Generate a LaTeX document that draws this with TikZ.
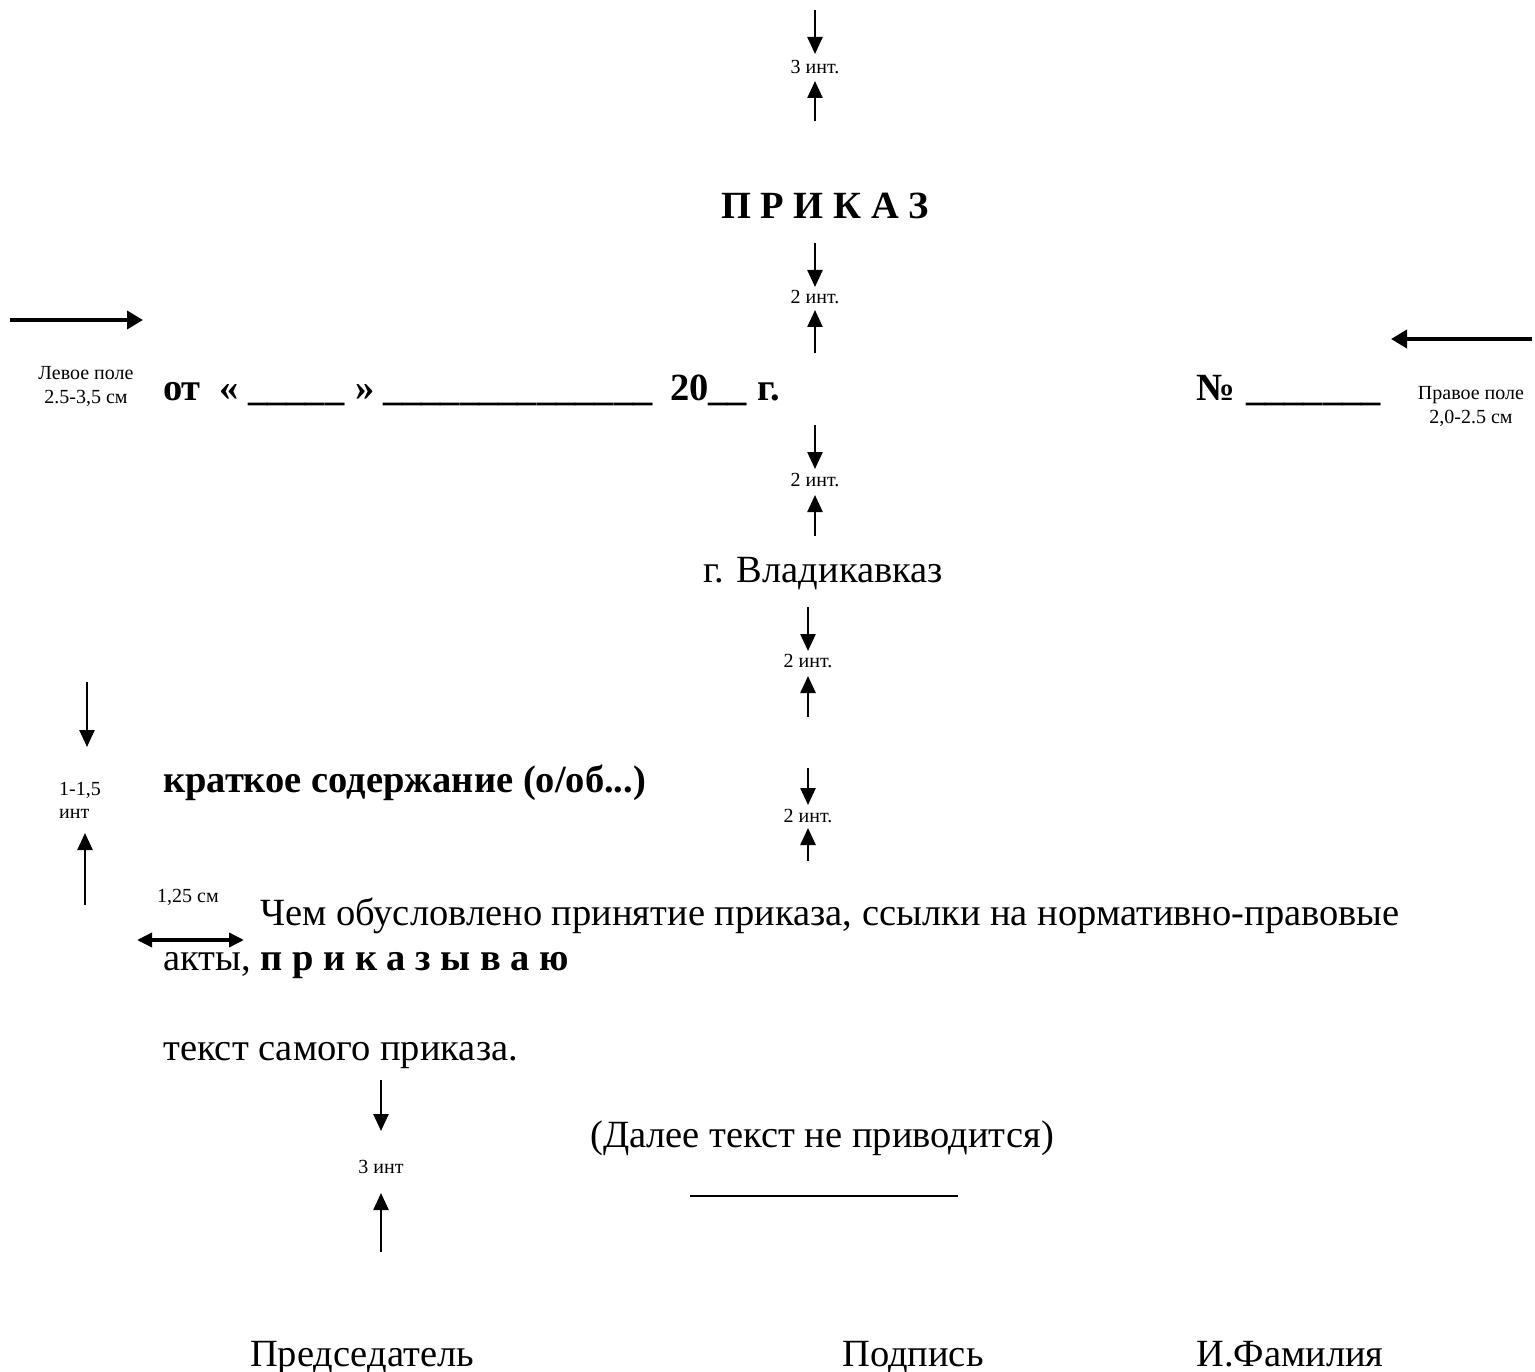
\documentclass[tikz,border=0pt]{standalone}
\usepackage{fontspec}
\setmainfont{Liberation Serif}
\usetikzlibrary{arrows.meta}
\tikzset{
  varr/.style={line width=2.5pt,-{Triangle[length=17pt,width=15pt]}},
  harr/.style={line width=3.6pt,-{Triangle[length=16pt,width=18pt]}},
  darr/.style={line width=3.5pt,{Triangle[length=15pt,width=14pt]}-{Triangle[length=15pt,width=14pt]}},
  lbl/.style={inner sep=0pt,font=\fontsize{20}{22}\selectfont},
  txt/.style={inner sep=0pt,anchor=base west,font=\fontsize{38.5}{44}\selectfont},
  btxt/.style={inner sep=0pt,anchor=base west,font=\fontsize{38.5}{44}\selectfont\bfseries},
}
\newcommand{\us}[1]{\foreach \i in {1,...,#1}{\_}}
\begin{document}
\begin{tikzpicture}[x=1pt,y=-1pt]
\useasboundingbox[fill=white] (0,0) rectangle (1535,1372);

% top: 3 int
\coordinate (a1s) at (815,10); \coordinate (a1e) at (815,54);
\node[lbl] (l1) at (815,67) {3 инт.};
\coordinate (b1s) at (815,121); \coordinate (b1e) at (815,81);
\draw[varr] (a1s) -- (a1e);
\draw[varr] (b1s) -- (b1e);

% title
\node[inner sep=0pt,anchor=base,font=\fontsize{38.5}{44}\selectfont\bfseries] (title) at (825,219) {П Р И К А З};

% 2 int
\coordinate (a2s) at (815,243); \coordinate (a2e) at (815,287);
\node[lbl] (l2) at (815,297) {2 инт.};
\coordinate (b2s) at (815,353); \coordinate (b2e) at (815,310);
\draw[varr] (a2s) -- (a2e);
\draw[varr] (b2s) -- (b2e);

% margins
\coordinate (ml1) at (10,320); \coordinate (ml2) at (143,320);
\draw[harr] (ml1) -- (ml2);
\coordinate (mr1) at (1532,339); \coordinate (mr2) at (1391,339);
\draw[harr] (mr1) -- (mr2);
\node[lbl,align=center] (lm) at (86,386) {Левое поле\\[2pt]2.5-3,5 см};
\node[lbl,align=center] (rm) at (1471,406) {Правое поле\\[2pt]2,0-2.5 см};

% date line
\node[btxt] (ot) at (163,400) {от};
\node[btxt] (q1) at (219,400) {«};
\node[btxt] (u1) at (248,400) {\us{5}};
\node[btxt] (q2) at (355,400) {»};
\node[btxt] (u2) at (383,400) {\us{14}};
\node[btxt] (yr) at (670,400) {20\us{2}};
\node[btxt] (gg) at (757,400) {г.};
\node[btxt] (no) at (1196,400) {№};
\node[btxt] (u3) at (1246,400) {\us{7}};

% 2 int
\coordinate (a3s) at (815,425); \coordinate (a3e) at (815,469);
\node[lbl] (l3) at (815,480) {2 инт.};
\coordinate (b3s) at (815,536); \coordinate (b3e) at (815,495);
\draw[varr] (a3s) -- (a3e);
\draw[varr] (b3s) -- (b3e);

\node[inner sep=0pt,anchor=base,font=\fontsize{38.5}{44}\selectfont] (city) at (823,582) {г. Владикавказ};

% 2 int
\coordinate (a4s) at (808,607); \coordinate (a4e) at (808,651);
\node[lbl] (l4) at (808,661) {2 инт.};
\coordinate (b4s) at (808,717); \coordinate (b4e) at (808,676);
\draw[varr] (a4s) -- (a4e);
\draw[varr] (b4s) -- (b4e);

% left 1-1,5
\coordinate (a6s) at (87,682); \coordinate (a6e) at (87,747);
\node[lbl,align=left,anchor=west] (l6) at (59,800) {1-1,5\\[1pt]инт};
\coordinate (b6s) at (85,905); \coordinate (b6e) at (85,833);
\draw[varr] (a6s) -- (a6e);
\draw[varr] (b6s) -- (b6e);

\node[btxt] (summ) at (163,792) {краткое содержание (о/об...)};

% 2 int
\coordinate (a5s) at (808,768); \coordinate (a5e) at (808,805);
\node[lbl] (l5) at (808,816) {2 инт.};
\coordinate (b5s) at (808,861); \coordinate (b5e) at (808,828);
\draw[varr] (a5s) -- (a5e);
\draw[varr] (b5s) -- (b5e);

% indent
\node[lbl] (ind) at (188,897) {1,25 см};
\coordinate (d1) at (137,940); \coordinate (d2) at (244,940);
\draw[darr] (d1) -- (d2);

\node[txt] (p1) at (260,925) {Чем обусловлено принятие приказа, ссылки на нормативно-правовые};
\node[txt] (p2) at (163,970) {акты, \textbf{п р и к а з ы в а ю}};
\node[txt] (p3) at (163,1060) {текст самого приказа.};

% 3 int bottom
\coordinate (a7s) at (381,1080); \coordinate (a7e) at (381,1131);
\node[lbl] (l7) at (381,1167) {3 инт};
\coordinate (b7s) at (381,1252); \coordinate (b7e) at (381,1193);
\draw[varr] (a7s) -- (a7e);
\draw[varr] (b7s) -- (b7e);

\node[txt] (p4) at (590,1147) {(Далее текст не приводится)};
\coordinate (r1) at (690,1196); \coordinate (r2) at (958,1196);
\draw[line width=1.5pt] (r1) -- (r2);

\node[txt] (s1) at (250,1366) {Председатель};
\node[txt] (s2) at (842,1366) {Подпись};
\node[txt] (s3) at (1196,1366) {И.Фамилия};
\end{tikzpicture}
\end{document}
